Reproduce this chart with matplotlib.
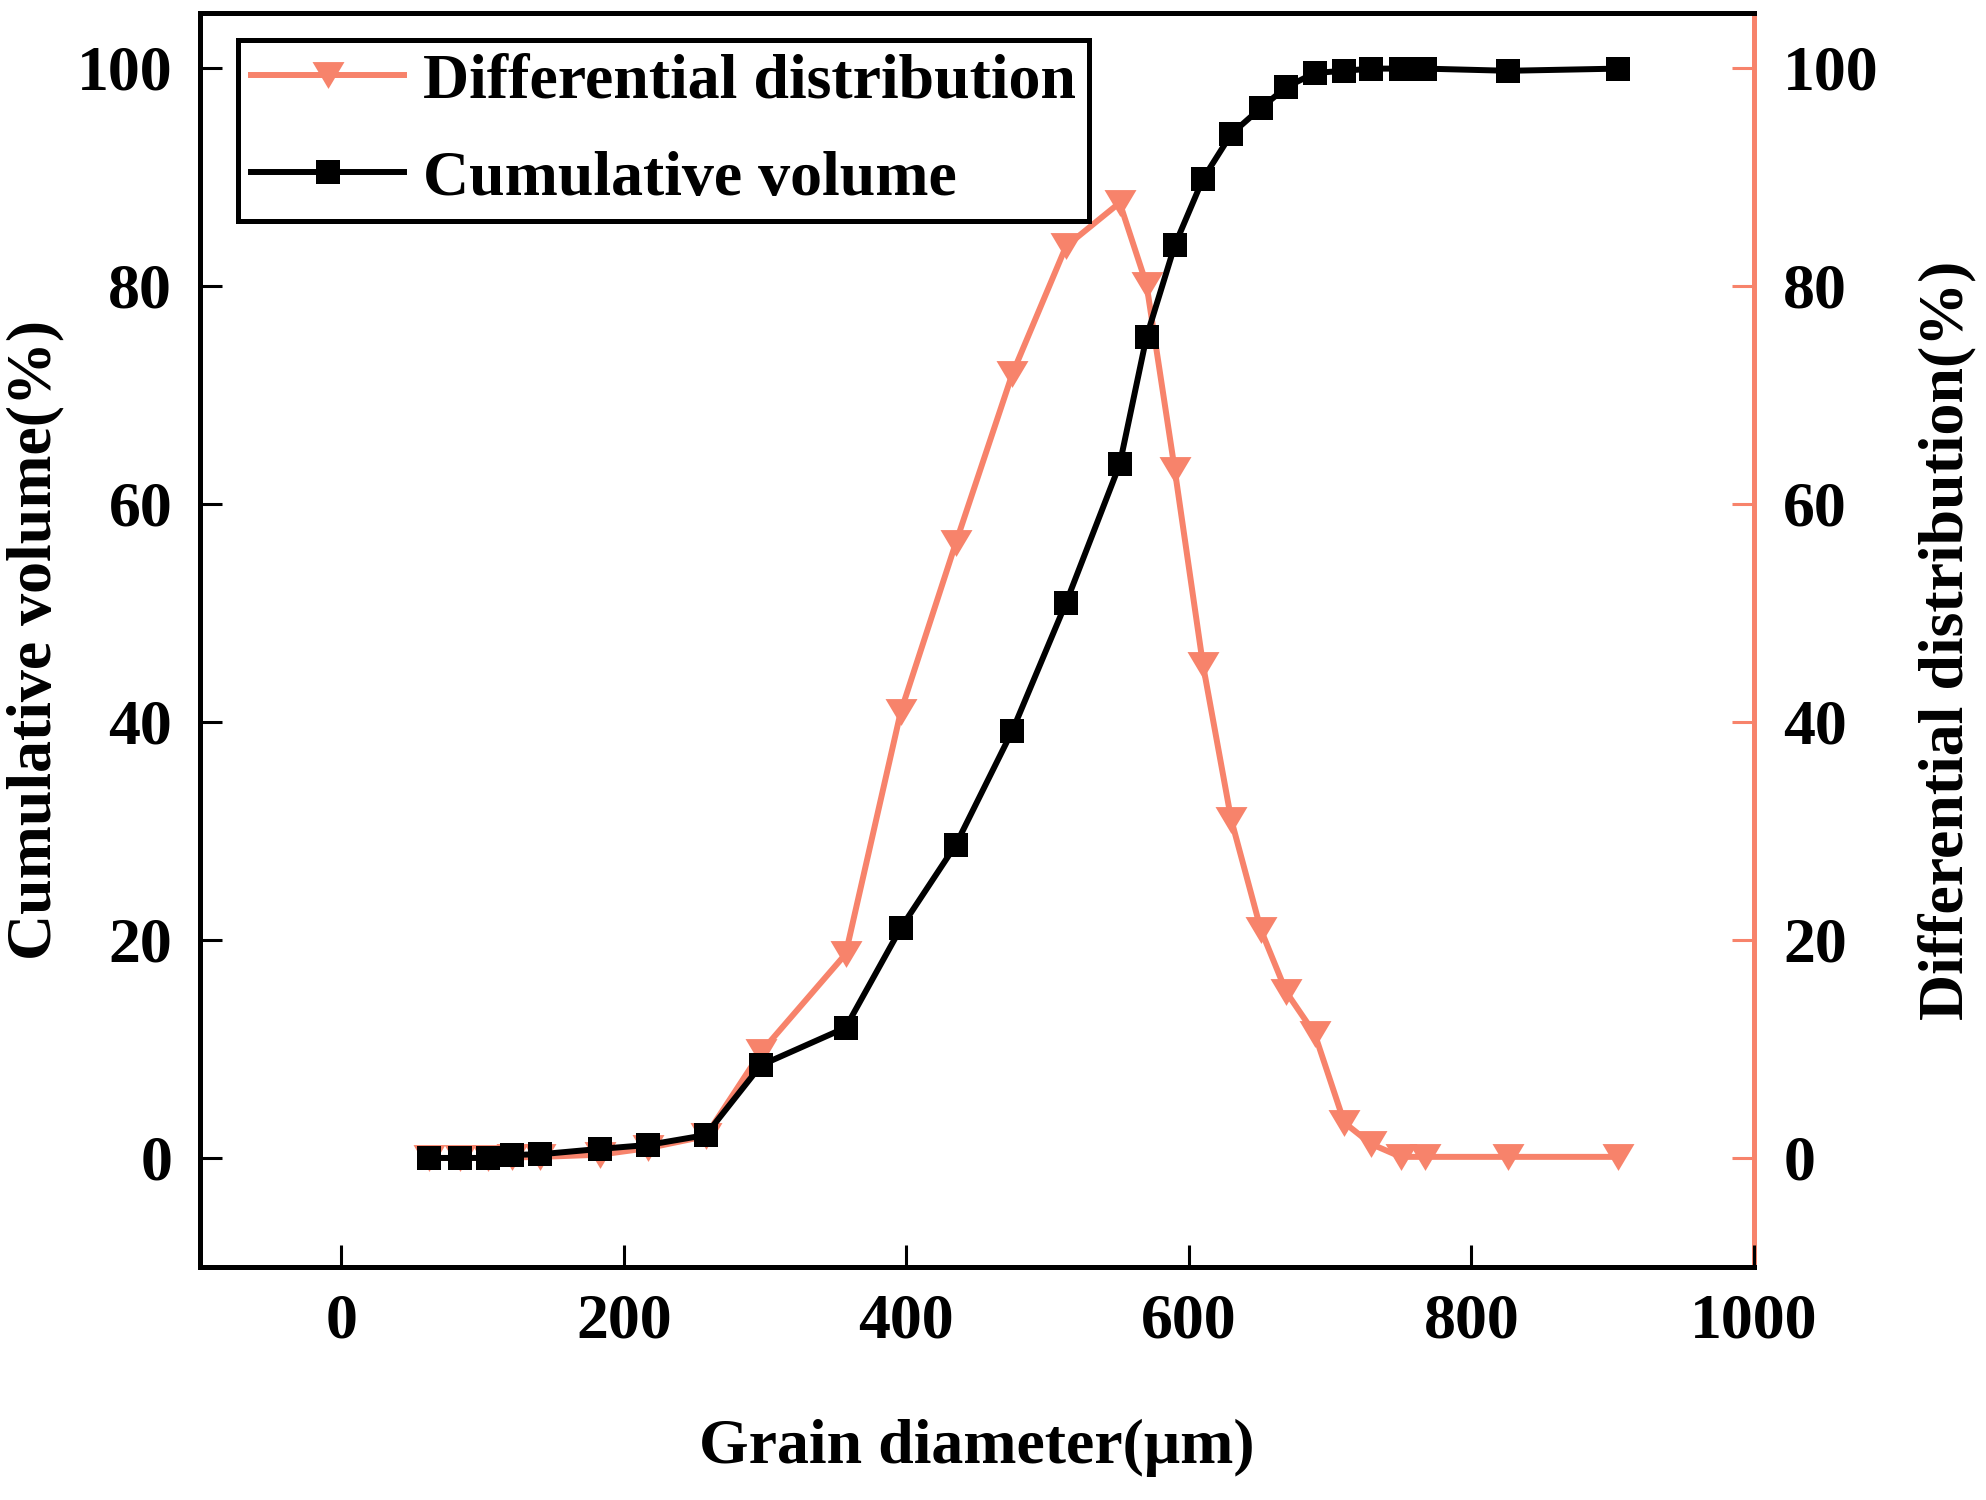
import numpy as np
import matplotlib.pyplot as plt
from matplotlib.lines import Line2D

# Datos
diametro = [62, 84, 104, 121, 141, 183, 217, 258, 297, 357, 396, 435, 475, 513,
            551, 570, 590, 610, 630, 651, 669, 689, 710, 729, 750, 767, 826, 904]
volumen_acumulado = [0.0, 0.0, 0.0, 0.28, 0.34, 0.83, 1.19, 2.1, 8.5, 11.95, 21.07,
                     28.72, 39.17, 50.9, 63.6, 75.3, 83.7, 89.8, 93.9, 96.3, 98.2,
                     99.5, 99.7, 99.9, 99.9, 99.9, 99.7, 99.9]
distribucion_diferencial = [0.0, 0.0, 0.0, 0.05, 0.1, 0.3, 0.9, 2.0, 9.7, 18.7, 40.9,
                            56.4, 71.9, 83.6, 87.6, 80.1, 63.1, 45.2, 31.0, 20.9, 15.2,
                            11.4, 3.24, 1.28, 0.1, 0.1, 0.1, 0.1]
ticks_x = [0, 200, 400, 600, 800, 1000]
ticks_y = [0, 20, 40, 60, 80, 100]

salmon = '#F7836B'
fuente = 'Liberation Serif'
tam = 46

plt.rcParams['font.family'] = fuente
plt.rcParams['font.weight'] = 'bold'

fig = plt.figure(figsize=(19.86, 15), dpi=100)
ax1 = fig.add_axes([200 / 1986, 1 - 1267 / 1500, 1554 / 1986, 1254 / 1500])
ax2 = ax1.twinx()

# Triángulo invertido algo achatado
triangulo = [(-1, 0.84), (1, 0.84), (0, -0.84), (-1, 0.84)]

ax2.plot(diametro, distribucion_diferencial, color=salmon, lw=4.3,
         marker=triangulo, markersize=23, markeredgewidth=0)
ax1.plot(diametro, volumen_acumulado, color='black', lw=4.3,
         marker='s', markersize=17, markeredgewidth=0)

# El eje izquierdo encima para que la curva negra quede arriba
ax1.set_zorder(ax2.get_zorder() + 1)
ax1.patch.set_visible(False)

for ax in (ax1, ax2):
    ax.set_xlim(-100, 1000)
    ax.set_ylim(-10, 105)
    ax.set_yticks(ticks_y)

ax1.set_xticks(ticks_x)
ax1.tick_params(axis='both', direction='in', length=16, width=2.2, labelsize=tam)
ax1.tick_params(axis='y', pad=20)
ax1.tick_params(axis='x', pad=19)
ax2.tick_params(axis='y', direction='in', length=16, width=2.2, labelsize=tam,
                color=salmon, pad=21)

for lado in ('left', 'top', 'bottom'):
    ax1.spines[lado].set_linewidth(3.6)
ax1.spines['right'].set_visible(False)
ax2.spines['right'].set_color(salmon)
ax2.spines['right'].set_linewidth(3.6)
for lado in ('left', 'top', 'bottom'):
    ax2.spines[lado].set_visible(False)

ax1.set_xlabel('Grain diameter(μm)', fontsize=tam, fontweight='bold')
ax1.set_ylabel('Cumulative volume(%)', fontsize=tam, fontweight='bold')
ax2.set_ylabel('Differential distribution(%)', fontsize=tam, fontweight='bold')
ax1.xaxis.set_label_coords(0.5, -0.121)
ax1.yaxis.set_label_coords(-0.087, 0.5)
ax2.yaxis.set_label_coords(1.1055, 0.5)

manijas = [
    Line2D([], [], color=salmon, lw=4.3, marker=triangulo, markersize=23, markeredgewidth=0),
    Line2D([], [], color='black', lw=4.3, marker='s', markersize=17, markeredgewidth=0),
]
leyenda = ax1.legend(manijas, ['Differential distribution', 'Cumulative volume'],
                     loc='upper left', bbox_to_anchor=(0.0245, 0.9785),
                     borderaxespad=0, fontsize=tam, fancybox=False, framealpha=1,
                     edgecolor='black', handlelength=2.4, handletextpad=0.3,
                     borderpad=0.2, labelspacing=0.6)
leyenda.get_frame().set_linewidth(3.6)

fig.savefig('out.png', dpi=100)
